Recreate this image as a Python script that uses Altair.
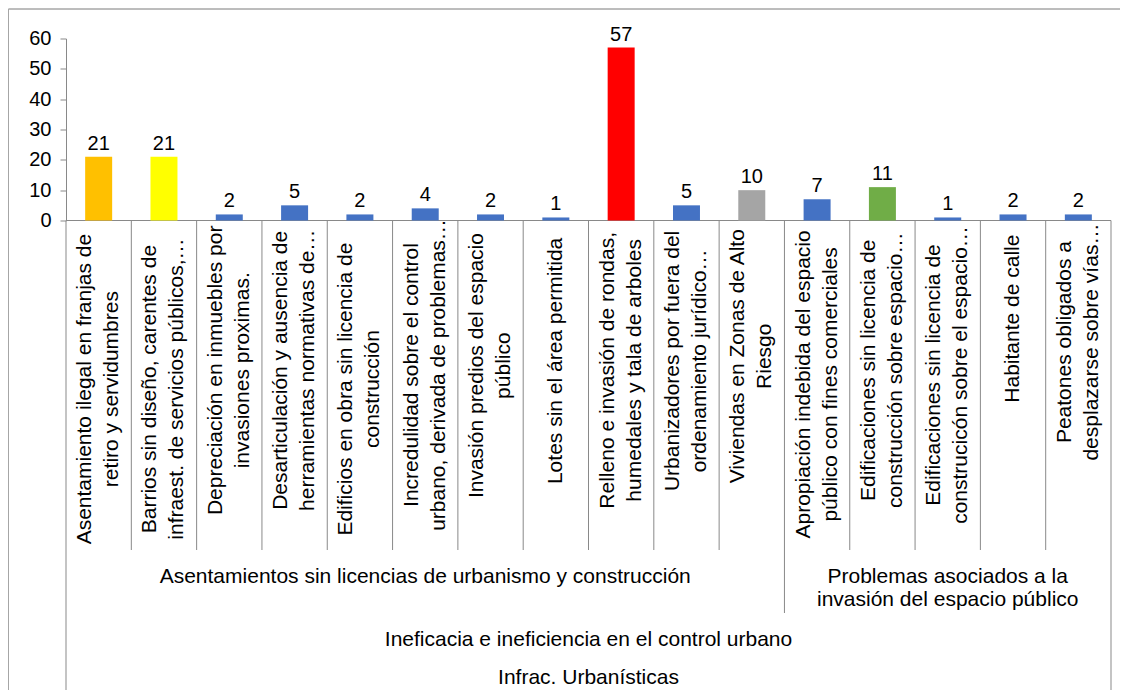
import altair as alt
import pandas as pd

# ---------------- data ----------------
categories = [
    "Asentamiento ilegal en franjas de\nretiro y servidumbres",
    "Barrios sin diseño,  carentes de\ninfraest. de servicios públicos,…",
    "Depreciación en inmuebles por\ninvasiones  proximas.",
    "Desarticulación y ausencia de\nherramientas normativas de…",
    "Edificios en obra sin licencia de\nconstrucción",
    "Incredulidad sobre el control\nurbano, derivada de problemas…",
    "Invasión predios del espacio\npúblico",
    "Lotes sin el área permitida",
    "Relleno e invasión de rondas,\nhumedales y tala de arboles",
    "Urbanizadores por fuera del\nordenamiento jurídico…",
    "Viviendas en Zonas de Alto\nRiesgo",
    "Apropiación indebida del espacio\npúblico con fines comerciales",
    "Edificaciones sin licencia de\nconstrucción sobre espacio…",
    "Edificaciones sin licencia de\nconstrucicón sobre el espacio…",
    "Habitante de calle",
    "Peatones obligados a\ndesplazarse sobre vías…",
]
values = [21, 21, 2, 5, 2, 4, 2, 1, 57, 5, 10, 7, 11, 1, 2, 2]
bar_colors = [
    "#FFC000", "#FFFF00", "#4472C4", "#4472C4", "#4472C4", "#4472C4",
    "#4472C4", "#4472C4", "#FF0000", "#4472C4", "#A5A5A5", "#4472C4",
    "#70AD47", "#4472C4", "#4472C4", "#4472C4",
]
group_names = [
    "Asentamientos sin licencias de urbanismo y construcción",
    "Problemas asociados a la\ninvasión del espacio público",
]
group_sizes = [11, 5]
level3 = "Ineficacia e ineficiencia en el control urbano"
level4 = "Infrac. Urbanísticas"
y_ticks = [0, 10, 20, 30, 40, 50, 60]

# ---------------- table ----------------
groups = [g for g, s in zip(group_names, group_sizes) for _ in range(s)]
n = len(categories)
df = pd.DataFrame({
    "idx": list(range(n)),
    "category": categories,
    "value": values,
    "color": bar_colors,
    "group": groups,
    "maxlen": [max(len(s) for s in c.split("\n")) for c in categories],
    "nlines": [len(c.split("\n")) for c in categories],
})

# ---------------- layout ----------------
W, H = 1045, 182
PAD_L, PAD_T, PAD_R, PAD_B = 58, 30.5, 9, 469.5
FONT = "Liberation Sans"
AXIS_GRAY = "#898989"
FRAME_GRAY = "#A6A6A6"
PX_PER_UNIT = H / 60.0
PX_PER_STEP = W / n
CAT_LH = 27

base = alt.Chart(df).transform_calculate(pos="datum.idx + 0.5")
xs = alt.Scale(domain=[0, n], padding=0, nice=False, zero=False)
ys = alt.Scale(domain=[0, 60], nice=False)

bars = base.mark_bar(size=27, orient="vertical").encode(
    x=alt.X("pos:Q", scale=xs, axis=None),
    y=alt.Y("value:Q", scale=ys,
            axis=alt.Axis(values=y_ticks, grid=False, title=None,
                          domainColor=AXIS_GRAY, tickColor=AXIS_GRAY,
                          tickSize=6, labelPadding=9, labelFontSize=20,
                          labelColor="#000000", labelFont=FONT)),
    color=alt.Color("color:N", scale=None),
)

value_text = base.mark_text(baseline="alphabetic", dy=-7, fontSize=20,
                            font=FONT, color="#000000").encode(
    x=alt.X("pos:Q", scale=xs, axis=None),
    y=alt.Y("value:Q", scale=ys, axis=None),
    text="value:Q",
)

# label block hangs from just under the axis and is centred in its column
cat_labels = base.transform_calculate(
    ly=f"-(13.5 + 4.7 * datum.maxlen) / {PX_PER_UNIT}",
    lx=f"datum.pos - (datum.nlines - 1) * {CAT_LH / 2} / {PX_PER_STEP}",
).mark_text(angle=270, align="center", baseline="middle", lineBreak="\n",
            lineHeight=CAT_LH, fontSize=21, font=FONT, color="#000000").encode(
    x=alt.X("lx:Q", scale=xs, axis=None),
    y=alt.Y("ly:Q", scale=ys, axis=None),
    text="category:N",
)

dividers_base = alt.Chart(df).transform_joinaggregate(gmin="min(idx)", groupby=["group"])

inner_div = dividers_base.transform_filter(
    "datum.idx > 0 && datum.idx != datum.gmin"
).mark_rule(color=AXIS_GRAY, strokeWidth=1).encode(
    x=alt.X("idx:Q", scale=xs, axis=None),
    y=alt.value(H),
    y2=alt.value(H + 329.5),
)

group_div = dividers_base.transform_filter(
    "datum.idx > 0 && datum.idx == datum.gmin"
).mark_rule(color=AXIS_GRAY, strokeWidth=1).encode(
    x=alt.X("idx:Q", scale=xs, axis=None),
    y=alt.value(H),
    y2=alt.value(H + 392.5),
)

edge_df = pd.DataFrame({"edge": [0, n]})
outer_lines = alt.Chart(edge_df).mark_rule(color=AXIS_GRAY).encode(
    x=alt.X("edge:Q", scale=xs, axis=None),
    y=alt.value(H),
    y2=alt.value(H + 470.5),
)
x_axis_line = alt.Chart(edge_df).mark_rule(color=AXIS_GRAY).encode(
    x=alt.X("min(edge):Q", scale=xs, axis=None),
    x2=alt.X2("max(edge):Q"),
    y=alt.value(H),
)

group_text = alt.Chart(df).transform_aggregate(
    gmin="min(idx)", gmax="max(idx)", groupby=["group"]
).transform_calculate(
    gc="(datum.gmin + datum.gmax + 1) / 2"
).mark_text(align="center", baseline="top", lineBreak="\n", lineHeight=23,
            fontSize=21, font=FONT, color="#000000").encode(
    x=alt.X("gc:Q", scale=xs, axis=None),
    y=alt.value(H + 345),
    text="group:N",
)

levels_df = pd.DataFrame({"label": [level3, level4], "lvl": [3, 4]})
levels_base = alt.Chart(levels_df).transform_calculate(mid=f"{n} / 2")
lvl3_text = levels_base.transform_filter("datum.lvl == 3").mark_text(
    align="center", baseline="middle", fontSize=21, font=FONT, color="#000000"
).encode(x=alt.X("mid:Q", scale=xs, axis=None), y=alt.value(H + 419),
         text="label:N")
lvl4_text = levels_base.transform_filter("datum.lvl == 4").mark_text(
    align="center", baseline="middle", fontSize=21, font=FONT, color="#000000"
).encode(x=alt.X("mid:Q", scale=xs, axis=None), y=alt.value(H + 457.5),
         text="label:N")

frame_top = alt.Chart(edge_df).mark_rule(color=FRAME_GRAY).encode(
    x=alt.value(-PAD_L + 0.5), x2=alt.value(W + PAD_R), y=alt.value(-PAD_T + 1)
)
frame_left = alt.Chart(edge_df).mark_rule(color=FRAME_GRAY).encode(
    x=alt.value(-PAD_L + 0.5), y=alt.value(-PAD_T + 1), y2=alt.value(H + PAD_B)
)

chart = alt.layer(
    frame_top, frame_left,
    inner_div, group_div, outer_lines, x_axis_line,
    bars, value_text, cat_labels, group_text, lvl3_text, lvl4_text,
).resolve_scale(y="independent").properties(
    width=W, height=H,
    padding={"left": PAD_L, "top": PAD_T, "right": PAD_R, "bottom": PAD_B},
    autosize="none",
).configure(font=FONT).configure_view(stroke=None)

chart.save("out.html", embed_options={"renderer": "svg", "actions": False})
